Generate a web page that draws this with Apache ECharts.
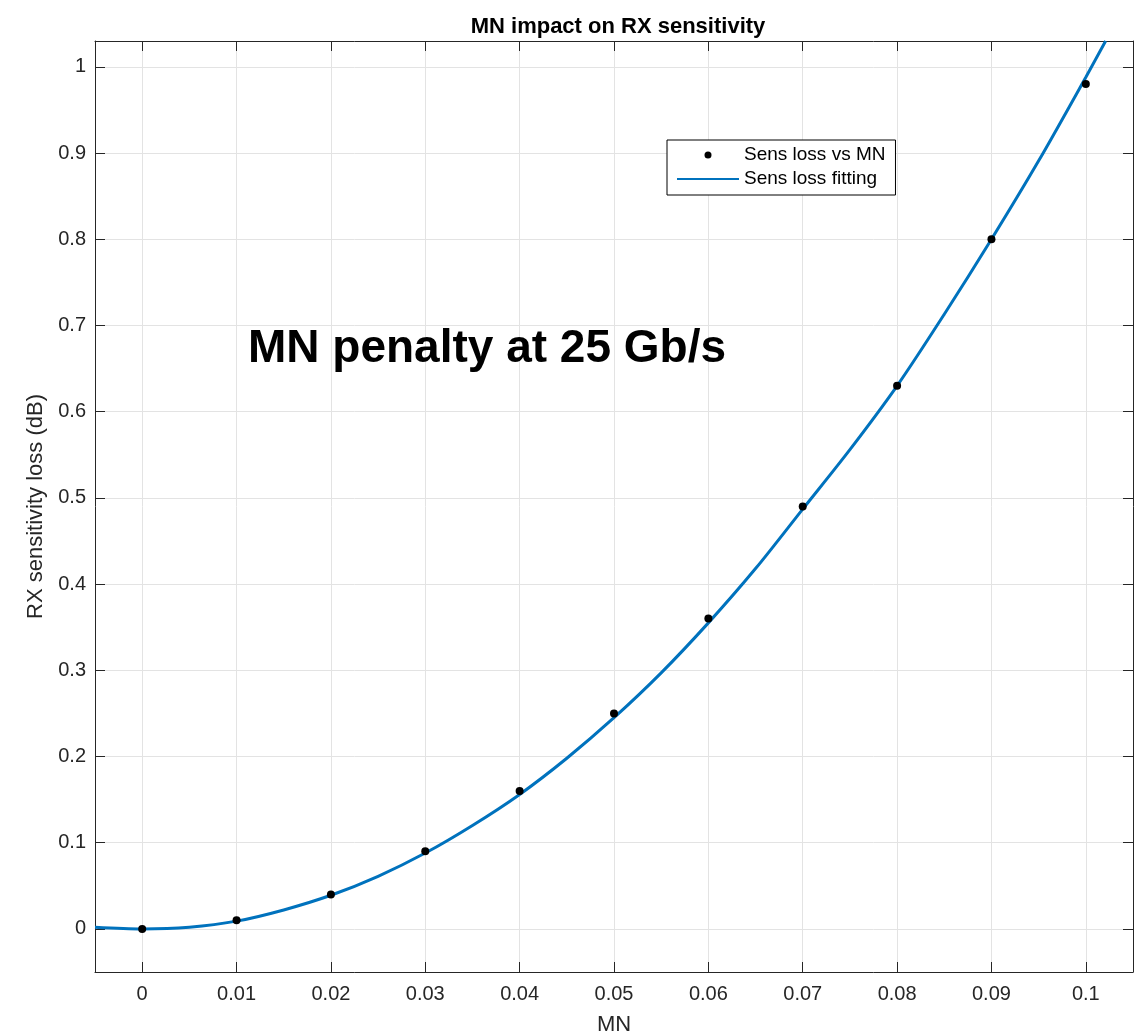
<!DOCTYPE html>
<html>
<head>
<meta charset="utf-8">
<title>MN impact on RX sensitivity</title>
<script src="https://cdn.jsdelivr.net/npm/echarts@6/dist/echarts.min.js"></script>
<style>
  html, body { margin: 0; padding: 0; background: #fff; }
  #chart { width: 1138px; height: 1035px; }
</style>
</head>
<body>
<div id="chart"></div>
<script>
// measured points (MN vs sensitivity loss, dB)
const mnValues = [0, 0.01, 0.02, 0.03, 0.04, 0.05, 0.06, 0.07, 0.08, 0.09, 0.1];
const lossValues = [0, 0.01, 0.04, 0.09, 0.16, 0.25, 0.36, 0.49, 0.63, 0.80, 0.98];

// fitted curve
const fitX = [-0.005, 0, 0.005, 0.01, 0.015, 0.02, 0.025, 0.03, 0.035, 0.04, 0.045, 0.05,
              0.055, 0.06, 0.065, 0.07, 0.075, 0.08, 0.085, 0.09, 0.095, 0.1, 0.1021];
const fitY = [0.002, 0.000, 0.002, 0.009, 0.022, 0.039, 0.061, 0.088, 0.120, 0.156, 0.198, 0.245,
              0.297, 0.355, 0.418, 0.487, 0.556, 0.630, 0.713, 0.800, 0.891, 0.988, 1.03];

// tick positions
const xTicks = [0, 0.01, 0.02, 0.03, 0.04, 0.05, 0.06, 0.07, 0.08, 0.09, 0.1];
const yTicks = [0, 0.1, 0.2, 0.3, 0.4, 0.5, 0.6, 0.7, 0.8, 0.9, 1];

const chartTitle = 'MN impact on RX sensitivity';
const xName = 'MN';
const yName = 'RX sensitivity loss (dB)';
const annotation = 'MN penalty at 25 Gb/s';
const legendNames = ['Sens loss vs MN', 'Sens loss fitting'];

const FONT = '"Liberation Sans", Arial, Helvetica, sans-serif';
const AXIS_COLOR = '#262626';
const GRID_COLOR = '#e3e3e3';
const LINE_BLUE = '#0072BD';

const chart = echarts.init(document.getElementById('chart'));

function makeAxis(extra, ticks, range) {
    return Object.assign({
        type: 'value',
        min: range[0],
        max: range[1],
        axisLine: { show: true, onZero: false, lineStyle: { color: AXIS_COLOR, width: 1 } },
        axisTick: { show: true, inside: true, length: 10, customValues: ticks,
                    lineStyle: { color: AXIS_COLOR, width: 1 } },
        axisLabel: { show: false, customValues: ticks },
        splitLine: { show: false }
    }, extra);
}

const xRange = [-0.005, 0.105];
const yRange = [-0.05, 1.03];

const option = {
    backgroundColor: '#fff',
    animation: false,
    textStyle: { fontFamily: FONT },
    title: {
        text: chartTitle,
        left: 613,
        top: 11,
        textAlign: 'center',
        textStyle: { fontFamily: FONT, fontSize: 22, fontWeight: 'bold', color: '#000' }
    },
    grid: { left: 95, right: 5, top: 41, bottom: 63, containLabel: false, outerBoundsMode: 'none' },
    legend: {
        data: [
            { name: legendNames[0], icon: 'circle' },
            { name: legendNames[1], itemStyle: { opacity: 0 } }
        ],
        orient: 'vertical',
        left: 667,
        top: 140,
        itemWidth: 62,
        itemHeight: 7,
        itemGap: 4,
        padding: [5, 10, 6, 9],
        backgroundColor: '#fff',
        borderColor: '#000',
        borderWidth: 1,
        borderRadius: 0,
        textStyle: { fontFamily: FONT, fontSize: 19, color: '#000', lineHeight: 20 }
    },
    xAxis: [
        makeAxis({
            name: xName,
            nameLocation: 'middle',
            nameGap: 42,
            nameTextStyle: { fontFamily: FONT, fontSize: 22, color: AXIS_COLOR },
            axisLabel: { show: true, customValues: xTicks, fontFamily: FONT, fontSize: 20,
                         color: AXIS_COLOR, margin: 12 },
            splitLine: { show: true, lineStyle: { color: GRID_COLOR, width: 1 } }
        }, xTicks, xRange),
        makeAxis({ position: 'top' }, xTicks, xRange)
    ],
    yAxis: [
        makeAxis({
            name: yName,
            nameLocation: 'middle',
            nameGap: 46,
            nameTextStyle: { fontFamily: FONT, fontSize: 22, color: AXIS_COLOR },
            axisLabel: { show: true, customValues: yTicks, fontFamily: FONT, fontSize: 20,
                         color: AXIS_COLOR, margin: 9 },
            splitLine: { show: true, lineStyle: { color: GRID_COLOR, width: 1 } }
        }, yTicks, yRange),
        makeAxis({ position: 'right' }, yTicks, yRange)
    ],
    graphic: [{
        type: 'text',
        left: 248,
        top: 326,
        z: 50,
        style: {
            text: annotation,
            fontFamily: FONT,
            fontSize: 46,
            fontWeight: 'bold',
            fill: '#000'
        }
    }],
    series: [
        {
            name: legendNames[1],
            type: 'line',
            data: fitX.map((x, i) => [x, fitY[i]]),
            smooth: 0.3,
            showSymbol: false,
            symbol: 'none',
            clip: true,
            lineStyle: { color: LINE_BLUE, width: 3 },
            itemStyle: { color: LINE_BLUE },
            z: 3
        },
        {
            name: legendNames[0],
            type: 'scatter',
            data: mnValues.map((x, i) => [x, lossValues[i]]),
            symbol: 'circle',
            symbolSize: 8,
            itemStyle: { color: '#000', opacity: 1 },
            z: 4
        }
    ]
};

chart.setOption(option);
</script>
</body>
</html>
